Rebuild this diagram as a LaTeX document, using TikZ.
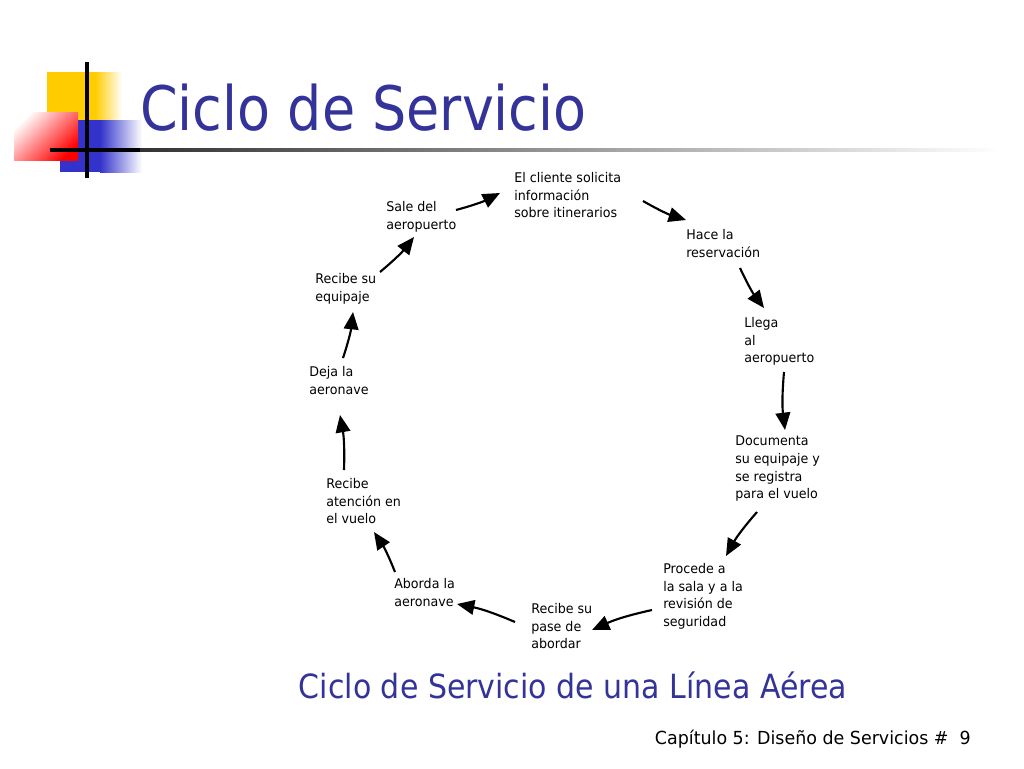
\documentclass[tikz,border=0pt]{standalone}
\usepackage{fontspec}
\setmainfont{DejaVu Sans}
\usetikzlibrary{arrows.meta}
\definecolor{tblue}{HTML}{333399}
\definecolor{lyel}{HTML}{FFCC00}
\definecolor{lblu}{HTML}{3333CC}
\begin{document}
\begin{tikzpicture}[x=0.75pt,y=-0.75pt,
  lbl/.style={anchor=north west,inner sep=0pt,align=left,font=\fontsize{10}{13.2}\selectfont,xscale=0.95},
  cyc/.style={line width=1.6pt,-{Triangle[length=13pt,width=11pt]}}]
\useasboundingbox (0,0) rectangle (1024,768);
% logo
\shade[left color=lyel, right color=white] (95,72) rectangle (122,120);
\fill[lyel] (47,72) rectangle (96,120);
\shade[left color=lblu, right color=white] (100,120) rectangle (142,172);
\fill[lblu] (60,120) rectangle (101,172);
\shade[left color=white, right color=red, shading angle=45] (14,112) rectangle (78,160);
\draw[line width=2.5pt] (87,62) -- (87,178);
\draw[line width=2.5pt] (50,150) -- (140,150);
\shade[left color=black!80, right color=white] (140,148.5) rectangle (1000,151.5);
\node[anchor=base west,inner sep=0pt,text=tblue,font=\fontsize{46}{56}\selectfont,xscale=0.88] (title) at (140,130) {Ciclo de Servicio};
% labels
\node[lbl] (n1) at (514,172) {El cliente solicita\\información\\sobre itinerarios};
\node[lbl] (n2) at (686,229) {Hace la\\reservación};
\node[lbl] (n3) at (744,317) {Llega\\al\\aeropuerto};
\node[lbl] (n4) at (735,436) {Documenta\\su equipaje y\\se registra\\para el vuelo};
\node[lbl] (n5) at (663,563) {Procede a\\la sala y a la\\revisión de\\seguridad};
\node[lbl] (n6) at (531,603) {Recibe su\\pase de\\abordar};
\node[lbl] (n7) at (394,578) {Aborda la\\aeronave};
\node[lbl] (n8) at (326,478) {Recibe\\atención en\\el vuelo};
\node[lbl] (n9) at (309,366) {Deja la\\aeronave};
\node[lbl] (n10) at (315,273) {Recibe su\\equipaje};
\node[lbl] (n11) at (386,201) {Sale del\\aeropuerto};
% arrow endpoints
\foreach \i/\ax/\ay/\bx/\by in {1/456/210/500/193, 2/643/201/686/220, 3/740/268/764/308,
  4/784/372/785/430, 5/757/512/726/556, 6/652/610/592/630, 7/515/622/457/604,
  8/395/572/374/532, 9/344/470/340/415, 10/343/358/353/312, 11/380/272/414/237}{
  \coordinate (a\i) at (\ax,\ay); \coordinate (b\i) at (\bx,\by);
  \draw[cyc] (a\i) to[bend right=6] (b\i);
}
\node[text=tblue,font=\fontsize{25}{30}\selectfont,xscale=0.9] (sub) at (573,685) {Ciclo de Servicio de una Línea Aérea};
\node[anchor=base east,inner sep=0pt,font=\fontsize{13.5}{16}\selectfont,xscale=0.97] (foot) at (971,744) {Capítulo 5: Diseño de Servicios \#\ \ 9};
\end{tikzpicture}
\end{document}
